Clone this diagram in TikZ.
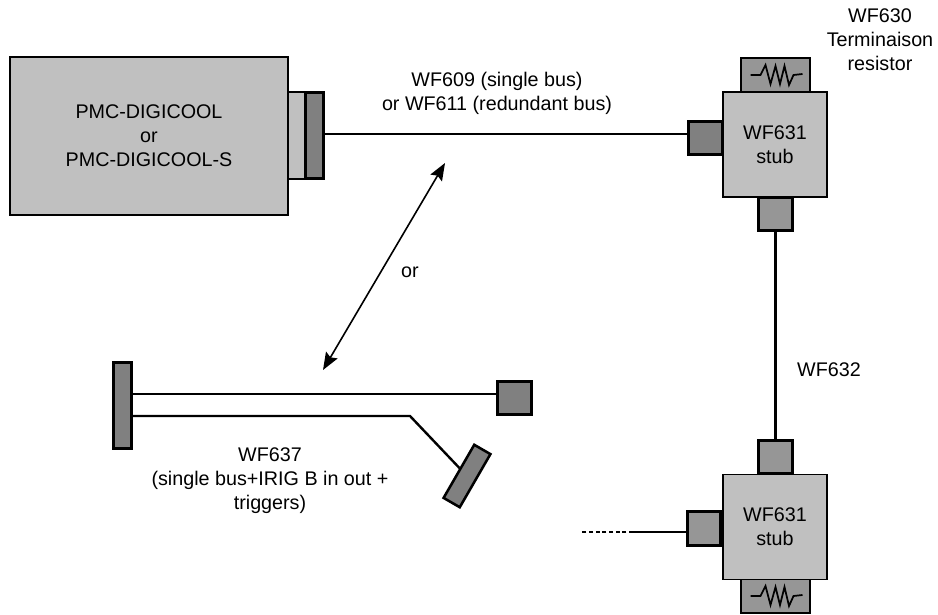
\documentclass[tikz,border=0pt]{standalone}
\usepackage{fontspec}
\setmainfont{Liberation Sans}
\usetikzlibrary{arrows.meta,calc,positioning}
\definecolor{boxgray}{HTML}{C0C0C0}
\definecolor{plugdark}{HTML}{808080}
\definecolor{plugmid}{HTML}{969696}
\tikzset{
  board/.style   = {draw, line width=1.1pt, fill=boxgray, inner sep=0pt, align=center},
  stubbox/.style = {board, minimum width=78pt, minimum height=78.5pt},
  plug/.style    = {draw, line width=2.1pt, fill=plugmid, inner sep=0pt,
                    minimum width=25pt, minimum height=25pt},
  bar/.style     = {plug, fill=plugdark, minimum width=13pt, minimum height=65pt},
  termbox/.style = {draw, line width=1.1pt, fill=plugmid, inner sep=0pt,
                    minimum width=52pt, minimum height=25.5pt},
  wire/.style    = {line width=1.8pt},
  both/.style    = {{Stealth[length=13pt,width=10pt,inset=2pt]}-{Stealth[length=13pt,width=10pt,inset=2pt]},
                    line width=1.2pt},
  lab/.style     = {align=center, inner sep=0pt, font=\fontsize{14.8}{18}\selectfont},
  zigzag/.pic    = {\draw[line width=1.3pt,line join=miter]
                    (-25,0) -- (-15,0) -- (-10,-10) -- (-5,9) -- (0,-9) -- (4.5,9)
                    -- (9,-9) -- (13.5,10) -- (18,0) -- (27,-1);},
}
\begin{document}
\begin{tikzpicture}[x=0.75pt,y=-0.75pt]
  \useasboundingbox (0,0) rectangle (938,614);
  % host board and its front connector
  \node[board,minimum width=30pt,minimum height=65pt] (pmcneck) at (301,135.5) {};
  \node[board,line width=1.3pt,minimum width=208.5pt,minimum height=118pt,font=\fontsize{14.8}{18}\selectfont] (pmc) at (149,136)
    {PMC-DIGICOOL\\or\\PMC-DIGICOOL-S};
  \node[bar] (pmcbar) at (314.5,135.5) {};
  % upper stub
  \node[termbox] (termtop) at (775.5,75) {};
  \node[plug,fill=plugdark] (stubleft) at (705.5,138) {};
  \node[plug] (stubdown) at (775.5,214) {};
  \node[stubbox,lab] (stubup) at (775,144.5) {WF631\\stub};
  \pic[x=0.75pt,y=-0.75pt] at (termtop.center) {zigzag};
  % lower stub
  \node[plug] (lowup) at (775.5,457) {};
  \node[plug] (lowleft) at (704,528.5) {};
  \node[termbox] (termlow) at (775.5,596) {};
  \node[stubbox,lab] (stublow) at (775,527) {WF631\\stub};
  \pic[x=0.75pt,y=-0.75pt] at (termlow.center) {zigzag};
  % cable set on the left
  \node[bar] (setbar) at (122.5,405.5) {};
  \node[plug,fill=plugdark] (setplug) at (514.5,398) {};
  \node[bar,rotate=-30,line width=1.9pt,minimum width=14pt,minimum height=46pt] (setside) at (467,476) {};
  \coordinate (busline) at (500,134);
  \coordinate (lowline) at (600,532);
  \coordinate (setupper) at (300,394);
  \coordinate (setbend) at (410,416);
  \coordinate (endsolid) at (633,532);
  \coordinate (enddots) at (581,532);
  \coordinate (arrowup) at (445,163);
  \coordinate (arrowdown) at (323,370);
  % wires
  \draw[wire] (pmcbar.east |- busline) -- (stubleft.west |- busline);
  \draw[wire] (stubdown) -- (lowup);
  \draw[wire] (lowleft.west |- lowline) -- (endsolid);
  \draw[wire,dash pattern=on 3pt off 2pt] (endsolid) -- (enddots);
  \draw[wire] (setbar.east |- setupper) -- (setplug.west |- setupper);
  \draw[wire] (setbar.east |- setbend) -- (setbend) -- (setside);
  \draw[both] (arrowup) -- (arrowdown);
  % labels
  \node[lab] (busname) at (497,93) {WF609 (single bus)\\or WF611 (redundant bus)};
  \node[lab] (orlab) at (410,272) {or};
  \node[lab] (downname) at (829,370) {WF632};
  \node[lab] (termname) at (880,40) {WF630\\Terminaison\\resistor};
  \node[lab] (setname) at (270,481) {WF637\\(single bus+IRIG B in out +\\triggers)};
\end{tikzpicture}
\end{document}
